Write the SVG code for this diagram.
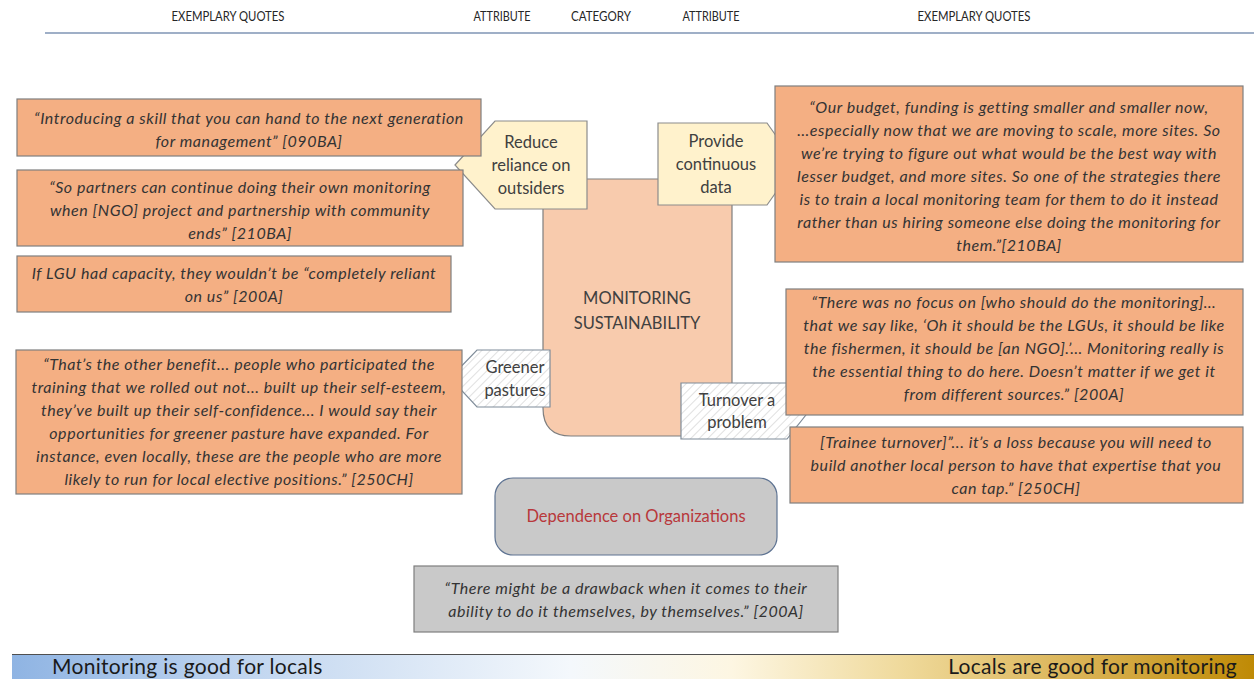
<svg xmlns="http://www.w3.org/2000/svg" width="1254" height="679" viewBox="0 0 1254 679">
  <style>
    .hdr { font-family: Lato, "Open Sans", sans-serif; font-size: 13.5px; fill: #262626; text-anchor: middle; }
    .quote { fill: #F4AF83; stroke: #7F7F7F; stroke-width: 1.2; }
    .qt { font-family: Lato, "Open Sans", sans-serif; font-style: italic; font-size: 16px; letter-spacing: 0.55px; fill: #333333; text-anchor: middle; }
    .attr { fill: #FFF2CC; stroke: #8C8C8C; stroke-width: 1.2; }
    .hatch { fill: url(#stripes); stroke: #7F8C99; stroke-width: 1.2; }
    .lbl { font-family: Lato, "Open Sans", sans-serif; font-size: 16.5px; fill: #404040; text-anchor: middle; }
    .gray { fill: #C9C9C9; stroke: #7F7F7F; stroke-width: 1.2; }
    .bar { font-family: Lato, "Open Sans", sans-serif; font-size: 21px; letter-spacing: 0.3px; fill: #1A1A1A; }
  </style>
  <defs>
    <pattern id="stripes" width="6" height="6" patternUnits="userSpaceOnUse" patternTransform="rotate(45)">
      <rect width="6" height="6" fill="#FFFFFF"/>
      <line x1="0" y1="0" x2="0" y2="6" stroke="#D9D9D9" stroke-width="1.6"/>
    </pattern>
    <linearGradient id="spectrum" x1="0" y1="0" x2="1" y2="0">
      <stop offset="0" stop-color="#8FB4E3"/>
      <stop offset="0.2" stop-color="#C3D7F0"/>
      <stop offset="0.45" stop-color="#F4F8FC"/>
      <stop offset="0.58" stop-color="#FDF6E2"/>
      <stop offset="0.72" stop-color="#EFD99A"/>
      <stop offset="0.87" stop-color="#D8B050"/>
      <stop offset="1" stop-color="#BF8A05"/>
    </linearGradient>
  </defs>

  <rect width="1254" height="679" fill="#FFFFFF"/>

  <!-- column headings -->
  <g id="headings">
    <text class="hdr" x="228" y="21" textLength="113" lengthAdjust="spacingAndGlyphs">EXEMPLARY QUOTES</text>
    <text class="hdr" x="502" y="21" textLength="57" lengthAdjust="spacingAndGlyphs">ATTRIBUTE</text>
    <text class="hdr" x="601" y="21" textLength="60" lengthAdjust="spacingAndGlyphs">CATEGORY</text>
    <text class="hdr" x="711" y="21" textLength="57" lengthAdjust="spacingAndGlyphs">ATTRIBUTE</text>
    <text class="hdr" x="974" y="21" textLength="113" lengthAdjust="spacingAndGlyphs">EXEMPLARY QUOTES</text>
    <line x1="45" y1="33" x2="1254" y2="33" stroke="#7F95B5" stroke-width="1.5"/>
  </g>

  <!-- central category -->
  <g id="category">
    <path d="M543,179 H732 V408 Q732,436 704,436 H571 Q543,436 543,408 Z" fill="#F8CBAD" stroke="#7F7F7F" stroke-width="1.2"/>
    <text class="lbl" x="637" y="304" font-size="18">MONITORING</text>
    <text class="lbl" x="637" y="329" font-size="18">SUSTAINABILITY</text>
  </g>

  <!-- attributes -->
  <g id="attr-reduce">
    <path class="attr" d="M455,165 L495,121 H587 V209 H495 Z"/>
    <text class="lbl" x="531" y="148">Reduce</text>
    <text class="lbl" x="531" y="171">reliance on</text>
    <text class="lbl" x="531" y="194">outsiders</text>
  </g>
  <g id="attr-provide">
    <path class="attr" d="M658,123 H767 L796,164 L767,205 H658 Z"/>
    <text class="lbl" x="716" y="147">Provide</text>
    <text class="lbl" x="716" y="170">continuous</text>
    <text class="lbl" x="716" y="193">data</text>
  </g>
  <g id="attr-greener">
    <path class="hatch" d="M450,378 L477,350 H550 V407 H477 Z"/>
    <text class="lbl" x="515" y="373">Greener</text>
    <text class="lbl" x="515" y="396">pastures</text>
  </g>
  <g id="attr-turnover">
    <path class="hatch" d="M681,383 H787 L809,411 L787,439 H681 Z"/>
    <text class="lbl" x="737" y="406">Turnover a</text>
    <text class="lbl" x="737" y="428">problem</text>
  </g>

  <!-- left quotes -->
  <g id="quote-090BA">
    <rect class="quote" x="17" y="99" width="464" height="57"/>
    <text class="qt" x="249" y="124">“Introducing a skill that you can hand to the next generation</text>
    <text class="qt" x="249" y="147">for management” [090BA]</text>
  </g>
  <g id="quote-210BA-left">
    <rect class="quote" x="17" y="170" width="446" height="76"/>
    <text class="qt" x="240" y="193">“So partners can continue doing their own monitoring</text>
    <text class="qt" x="240" y="216">when [NGO] project and partnership with community</text>
    <text class="qt" x="240" y="239">ends” [210BA]</text>
  </g>
  <g id="quote-200A-left">
    <rect class="quote" x="17" y="256" width="434" height="56"/>
    <text class="qt" x="234" y="279">If LGU had capacity, they wouldn’t be “completely reliant</text>
    <text class="qt" x="234" y="302">on us” [200A]</text>
  </g>
  <g id="quote-250CH-left">
    <rect class="quote" x="16" y="350" width="446" height="144"/>
    <text class="qt" x="239" y="370">“That’s the other benefit... people who participated the</text>
    <text class="qt" x="239" y="393">training that we rolled out not... built up their self-esteem,</text>
    <text class="qt" x="239" y="416">they’ve built up their self-confidence... I would say their</text>
    <text class="qt" x="239" y="439">opportunities for greener pasture have expanded. For</text>
    <text class="qt" x="239" y="462">instance, even locally, these are the people who are more</text>
    <text class="qt" x="239" y="485">likely to run for local elective positions.” [250CH]</text>
  </g>

  <!-- right quotes -->
  <g id="quote-210BA-right">
    <rect class="quote" x="775" y="86" width="468" height="176"/>
    <text class="qt" x="1009" y="113">“Our budget, funding is getting smaller and smaller now,</text>
    <text class="qt" x="1009" y="136">…especially now that we are moving to scale, more sites. So</text>
    <text class="qt" x="1009" y="159">we’re trying to figure out what would be the best way with</text>
    <text class="qt" x="1009" y="182">lesser budget, and more sites. So one of the strategies there</text>
    <text class="qt" x="1009" y="205">is to train a local monitoring team for them to do it instead</text>
    <text class="qt" x="1009" y="228">rather than us hiring someone else doing the monitoring for</text>
    <text class="qt" x="1009" y="251">them.”[210BA]</text>
  </g>
  <g id="quote-200A-right">
    <rect class="quote" x="786" y="289" width="457" height="126"/>
    <text class="qt" x="1014" y="308">“There was no focus on [who should do the monitoring]…</text>
    <text class="qt" x="1014" y="331">that we say like, ‘Oh it should be the LGUs, it should be like</text>
    <text class="qt" x="1014" y="354">the fishermen, it should be [an NGO].’… Monitoring really is</text>
    <text class="qt" x="1014" y="377">the essential thing to do here. Doesn’t matter if we get it</text>
    <text class="qt" x="1014" y="400">from different sources.” [200A]</text>
  </g>
  <g id="quote-250CH-right">
    <rect class="quote" x="790" y="427" width="453" height="76"/>
    <text class="qt" x="1016" y="448">[Trainee turnover]”... it’s a loss because you will need to</text>
    <text class="qt" x="1016" y="471">build another local person to have that expertise that you</text>
    <text class="qt" x="1016" y="494">can tap.” [250CH]</text>
  </g>

  <!-- counter-theme -->
  <g id="dependence">
    <rect x="495" y="478" width="282" height="77" rx="18" fill="#C9C9C9" stroke="#5E7392" stroke-width="1.2"/>
    <text class="lbl" x="636" y="522" font-size="15" style="fill:#B8383B">Dependence on Organizations</text>
  </g>
  <g id="quote-200A-drawback">
    <rect class="gray" x="414" y="566" width="424" height="66"/>
    <text class="qt" x="626" y="594">“There might be a drawback when it comes to their</text>
    <text class="qt" x="626" y="617">ability to do it themselves, by themselves.” [200A]</text>
  </g>

  <!-- spectrum bar -->
  <g id="spectrum-bar">
    <rect x="12" y="654" width="1242" height="25" fill="url(#spectrum)"/>
    <line x1="12" y1="654.5" x2="1254" y2="654.5" stroke="#4F4F4F" stroke-width="1"/>
    <text class="bar" x="52" y="674">Monitoring is good for locals</text>
    <text class="bar" x="1237" y="674" text-anchor="end">Locals are good for monitoring</text>
  </g>
</svg>
